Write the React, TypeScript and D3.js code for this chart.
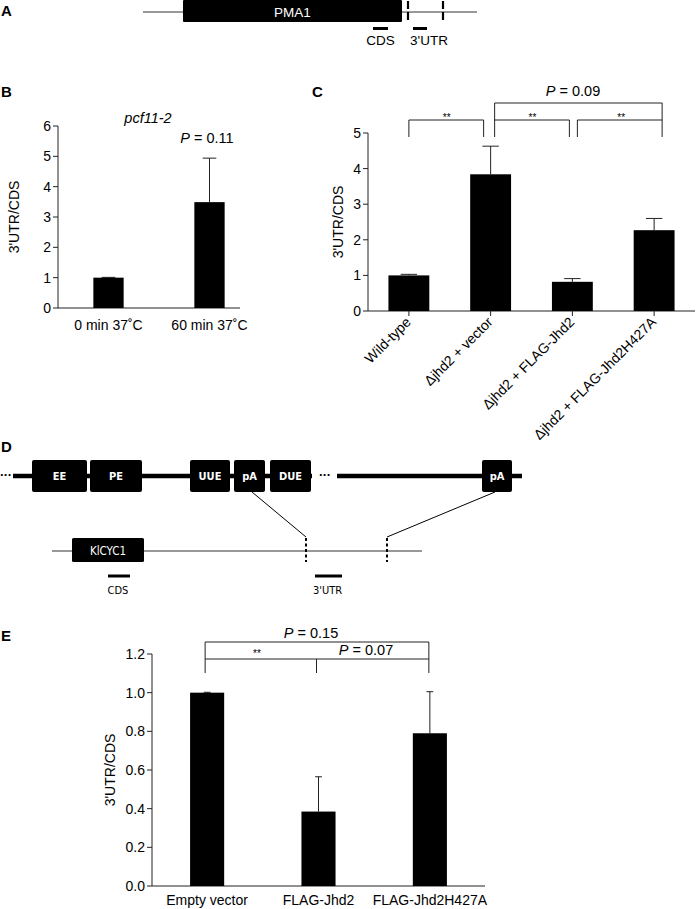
import React from "react";
import * as d3 from "d3";

// ---------- Panel B data ----------
const bCats = ["0 min 37˚C", "60 min 37˚C"];
const bVals = [1.0, 3.49];
const bErr = [1.01, 4.94];
const bTicks = [0, 1, 2, 3, 4, 5, 6];

// ---------- Panel C data ----------
const cCats = ["Wild-type", "Δjhd2 + vector", "Δjhd2 + FLAG-Jhd2", "Δjhd2 + FLAG-Jhd2H427A"];
const cVals = [1.0, 3.84, 0.82, 2.27];
const cErr = [1.03, 4.63, 0.91, 2.6];
const cTicks = [0, 1, 2, 3, 4, 5];

// ---------- Panel E data ----------
const eCats = ["Empty vector", "FLAG-Jhd2", "FLAG-Jhd2H427A"];
const eVals = [1.0, 0.385, 0.79];
const eErr = [1.002, 0.565, 1.005];
const eTicks = [0, 0.2, 0.4, 0.6, 0.8, 1.0, 1.2];

// ---------- Diagram features (genomic units) ----------
const aGene = { name: "PMA1", start: 183, end: 402 };
const aLine = [143, 477];
const aSites = [408, 443];
const aProbes = [
  { name: "CDS", start: 373, end: 388 },
  { name: "3'UTR", start: 413, end: 427 },
];
const dElements = [
  { name: "EE", start: 32, end: 87 },
  { name: "PE", start: 90, end: 142 },
  { name: "UUE", start: 190, end: 230 },
  { name: "pA", start: 234, end: 265 },
  { name: "DUE", start: 270, end: 311 },
  { name: "pA", start: 482, end: 512 },
];
const dLines = [[13, 312], [337, 522]];
const dGene = { name: "KlCYC1", start: 72, end: 144 };
const dThin = [52, 422];
const dSites = [306, 387];
const dProbes = [
  { name: "CDS", start: 108, end: 130 },
  { name: "3'UTR", start: 315, end: 342 },
];

const FONT = "'Liberation Sans', Arial, sans-serif";
const NARROW = "'Liberation Sans Narrow', 'DejaVu Sans Condensed', sans-serif";
const AX = "#222";

function ErrorBar({ x, y0, y1, cap }: { x: number; y0: number; y1: number; cap: number }) {
  return (
    <g stroke={AX} strokeWidth={1}>
      <line x1={x} x2={x} y1={y0} y2={y1} />
      <line x1={x - cap / 2} x2={x + cap / 2} y1={y1} y2={y1} />
    </g>
  );
}

function Bracket({ x1, x2, yTop, yBot, mid }: { x1: number; x2: number; yTop: number; yBot: number; mid?: number }) {
  return (
    <g stroke={AX} strokeWidth={1} fill="none">
      <path d={`M${x1},${yBot}V${yTop}H${x2}V${yBot}`} />
      {mid !== undefined && <line x1={mid} x2={mid} y1={yTop} y2={yBot} />}
    </g>
  );
}

export default function App() {
  // scale for diagrams (identity mapping of feature units to px)
  const gx = d3.scaleLinear().domain([0, 700]).range([0, 700]);

  // Panel B
  const bY = d3.scaleLinear().domain([0, 6]).range([308, 126]);
  const bX = d3.scaleBand().domain(bCats).range([58, 260]).paddingInner(0.7).paddingOuter(0.35);
  const bAxisEnd = 240;

  // Panel C
  const cY = d3.scaleLinear().domain([0, 5]).range([311, 133]);
  const cX = d3.scaleBand().domain(cCats).range([368, 695]).paddingInner(0.5).paddingOuter(0.25);
  const cc = (i: number) => (cX(cCats[i]) as number) + cX.bandwidth() / 2;

  // Panel E
  const eY = d3.scaleLinear().domain([0, 1.2]).range([886, 654]);
  const eX = d3.scaleBand().domain(eCats).range([152, 485]).paddingInner(0.694).paddingOuter(0.342);
  const ec = (i: number) => (eX(eCats[i]) as number) + eX.bandwidth() / 2;

  const label = (t: string, x: number, y: number) => (
    <text x={x} y={y} fontFamily={FONT} fontWeight="bold" fontSize={15}>{t}</text>
  );

  return (
    <svg width={700} height={909} style={{ position: "absolute", left: 0, top: 0, background: "#fff" }} fontFamily={FONT}>
      <rect width={700} height={909} fill="#fff" />
      {/* ---------- Panel A ---------- */}
      {label("A", 1, 16)}
      <line x1={gx(aLine[0])} x2={gx(aLine[1])} y1={12} y2={12} stroke="#333" strokeWidth={1} />
      <rect x={gx(aGene.start)} y={0} width={gx(aGene.end) - gx(aGene.start)} height={22} rx={1} fill="#000" />
      <text x={(gx(aGene.start) + gx(aGene.end)) / 2} y={16.5} fill="#fff" fontSize={13.5} textAnchor="middle">{aGene.name}</text>
      {aSites.map((s, i) => (
        <line key={i} x1={gx(s)} x2={gx(s)} y1={1} y2={21} stroke="#000" strokeWidth={2.2} strokeDasharray="8,3" />
      ))}
      {aProbes.map((p, i) => (
        <g key={i}>
          <line x1={gx(p.start)} x2={gx(p.end)} y1={28.5} y2={28.5} stroke="#000" strokeWidth={3} />
          <text x={(gx(p.start) + gx(p.end)) / 2 + (i === 0 ? 0 : 9)} y={45} fontSize={13.5} textAnchor="middle">{p.name}</text>
        </g>
      ))}

      {/* ---------- Panel B ---------- */}
      {label("B", 1, 97)}
      <text x={148} y={123} fontSize={14.5} fontStyle="italic" textAnchor="middle">pcf11-2</text>
      <g>
        <line x1={58} x2={58} y1={bY(6)} y2={bY(0)} stroke={AX} />
        <line x1={58} x2={bAxisEnd} y1={bY(0)} y2={bY(0)} stroke={AX} />
        {bTicks.map((t) => (
          <g key={t}>
            <line x1={53} x2={58} y1={bY(t)} y2={bY(t)} stroke={AX} />
            <text x={51} y={bY(t) + 5} fontSize={14} textAnchor="end">{t}</text>
          </g>
        ))}
        <text transform={`translate(19,${(bY(0) + bY(6)) / 2}) rotate(-90)`} fontSize={14} textAnchor="middle">3'UTR/CDS</text>
        {bCats.map((c, i) => {
          const x = bX(c) as number;
          const w = bX.bandwidth();
          return (
            <g key={c}>
              <ErrorBar x={x + w / 2} y0={bY(bVals[i])} y1={bY(bErr[i])} cap={w * 0.45} />
              <rect x={x} y={bY(bVals[i])} width={w} height={bY(0) - bY(bVals[i])} fill="#000" />
              <text x={x + w / 2} y={330} fontSize={14} textAnchor="middle">{c}</text>
            </g>
          );
        })}
        <text x={207} y={143} fontSize={14.5} textAnchor="middle">
          <tspan fontStyle="italic">P</tspan> = 0.11
        </text>
      </g>

      {/* ---------- Panel C ---------- */}
      {label("C", 312, 97)}
      <g>
        <line x1={368} x2={368} y1={cY(5)} y2={cY(0)} stroke={AX} />
        <line x1={368} x2={695} y1={cY(0)} y2={cY(0)} stroke={AX} />
        {cTicks.map((t) => (
          <g key={t}>
            <line x1={363} x2={368} y1={cY(t)} y2={cY(t)} stroke={AX} />
            <text x={361} y={cY(t) + 5} fontSize={14} textAnchor="end">{t}</text>
          </g>
        ))}
        <text transform={`translate(343,${(cY(0) + cY(5)) / 2}) rotate(-90)`} fontSize={14} textAnchor="middle">3'UTR/CDS</text>
        {cCats.map((c, i) => {
          const x = cX(c) as number;
          const w = cX.bandwidth();
          const cx = x + w / 2;
          return (
            <g key={c}>
              <ErrorBar x={cx} y0={cY(cVals[i])} y1={cY(cErr[i])} cap={w * 0.4} />
              <rect x={x} y={cY(cVals[i])} width={w} height={cY(0) - cY(cVals[i])} fill="#000" />
              <line x1={cx} x2={cx} y1={cY(0)} y2={cY(0) + 5} stroke={AX} />
              <text transform={`translate(${cx + 3},${cY(0) + 12}) rotate(-45)`} fontSize={14} textAnchor="end">{c}</text>
            </g>
          );
        })}
        <Bracket x1={cc(0)} x2={cc(1) - 7} yTop={120} yBot={137} />
        <Bracket x1={cc(1) + 4} x2={cc(2) - 3} yTop={120} yBot={137} />
        <Bracket x1={cc(2) + 5} x2={cc(3) + 8} yTop={120} yBot={137} />
        <Bracket x1={cc(1) + 4} x2={cc(3) + 8} yTop={103} yBot={120} />
        <text x={(cc(0) + cc(1)) / 2 - 3} y={121} fontSize={10} textAnchor="middle">**</text>
        <text x={(cc(1) + cc(2)) / 2 + 1} y={121} fontSize={10} textAnchor="middle">**</text>
        <text x={(cc(2) + cc(3)) / 2 + 8} y={121} fontSize={10} textAnchor="middle">**</text>
        <text x={573} y={96} fontSize={14.5} textAnchor="middle">
          <tspan fontStyle="italic">P</tspan> = 0.09
        </text>
      </g>

      {/* ---------- Panel D ---------- */}
      {label("D", 1, 452)}
      <text x={gx(0)} y={479} fontSize={13} fontWeight="bold" letterSpacing={-0.5}>···</text>
      <text x={gx(319)} y={479} fontSize={13} fontWeight="bold" letterSpacing={-0.5}>···</text>
      {dLines.map((l, i) => (
        <line key={i} x1={gx(l[0])} x2={gx(l[1])} y1={476} y2={476} stroke="#000" strokeWidth={4.5} />
      ))}
      {dElements.map((e, i) => (
        <g key={i}>
          <rect x={gx(e.start)} y={460} width={gx(e.end) - gx(e.start)} height={32} rx={2} fill="#000" />
          <text x={(gx(e.start) + gx(e.end)) / 2} y={480} fill="#fff" fontSize={11} fontWeight="bold" textAnchor="middle"
            fontFamily="'DejaVu Sans Condensed', 'Liberation Sans Narrow', sans-serif">{e.name}</text>
        </g>
      ))}
      <line x1={gx(252)} y1={492} x2={gx(dSites[0])} y2={537} stroke="#000" strokeWidth={1} />
      <line x1={gx(495)} y1={492} x2={gx(dSites[1])} y2={537} stroke="#000" strokeWidth={1} />
      <line x1={gx(dThin[0])} x2={gx(dThin[1])} y1={551} y2={551} stroke="#333" strokeWidth={1} />
      <rect x={gx(dGene.start)} y={538} width={gx(dGene.end) - gx(dGene.start)} height={24} rx={1.5} fill="#000" />
      <text x={(gx(dGene.start) + gx(dGene.end)) / 2} y={554.5} fill="#fff" fontSize={11.5} textAnchor="middle"
        fontFamily={NARROW}>{dGene.name}</text>
      {dSites.map((s, i) => (
        <line key={i} x1={gx(s)} x2={gx(s)} y1={538} y2={562} stroke="#000" strokeWidth={2} strokeDasharray="3,2.5" />
      ))}
      {dProbes.map((p, i) => (
        <g key={i}>
          <line x1={gx(p.start)} x2={gx(p.end)} y1={576} y2={576} stroke="#000" strokeWidth={3} />
          <text x={(gx(p.start) + gx(p.end)) / 2 - 1} y={594} fontSize={11} textAnchor="middle"
            fontFamily={NARROW}>{p.name}</text>
        </g>
      ))}

      {/* ---------- Panel E ---------- */}
      {label("E", 1, 641)}
      <g>
        <line x1={152} x2={152} y1={eY(1.2)} y2={eY(0)} stroke={AX} />
        <line x1={152} x2={485} y1={eY(0)} y2={eY(0)} stroke={AX} />
        {eTicks.map((t) => (
          <g key={t}>
            <line x1={147} x2={152} y1={eY(t)} y2={eY(t)} stroke={AX} />
            <text x={145} y={eY(t) + 5} fontSize={14} textAnchor="end">{t.toFixed(1)}</text>
          </g>
        ))}
        <text transform={`translate(115,${(eY(0) + eY(1.2)) / 2}) rotate(-90)`} fontSize={14} textAnchor="middle">3'UTR/CDS</text>
        {eCats.map((c, i) => {
          const x = eX(c) as number;
          const w = eX.bandwidth();
          return (
            <g key={c}>
              <ErrorBar x={x + w / 2} y0={eY(eVals[i])} y1={eY(eErr[i])} cap={w * 0.2} />
              <rect x={x} y={eY(eVals[i])} width={w} height={eY(0) - eY(eVals[i])} fill="#000" />
              <text x={x + w / 2} y={905} fontSize={14} textAnchor="middle">{c}</text>
            </g>
          );
        })}
        <Bracket x1={ec(0) - 2} x2={ec(2) - 1} yTop={642} yBot={659} />
        <Bracket x1={ec(0) - 2} x2={ec(2) - 1} yTop={659} yBot={673} mid={ec(1) - 2} />
        <text x={257} y={657} fontSize={10} textAnchor="middle">**</text>
        <text x={311} y={638} fontSize={14.5} textAnchor="middle">
          <tspan fontStyle="italic">P</tspan> = 0.15
        </text>
        <text x={366} y={655} fontSize={14.5} textAnchor="middle">
          <tspan fontStyle="italic">P</tspan> = 0.07
        </text>
      </g>
    </svg>
  );
}
